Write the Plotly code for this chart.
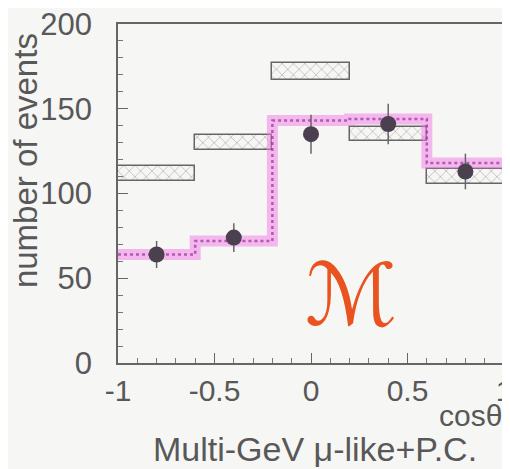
import plotly.graph_objects as go

# ---- data ----
bin_edges = [-1.0, -0.6, -0.2, 0.2, 0.6, 1.0]
bin_centers = [-0.8, -0.4, 0.0, 0.4, 0.8]
data_counts = [64, 74, 135, 141, 113]
data_errors = [8, 8.5, 11.5, 12, 10.5]
osc_pred = [64, 72, 143, 144, 118]
noosc_pred = [112, 130, 172, 135, 110]
noosc_halfband = [4.5, 4.5, 5, 4, 4.5]
x_tick_vals = [-1, -0.5, 0, 0.5, 1]
x_tick_text = ["-1", "-0.5", "0", "0.5", "1"]
y_tick_vals = [0, 50, 100, 150, 200]

TXT = "#585858"
FONT = "Liberation Sans, Arial, sans-serif"
BG = "#f6f6f4"

fig = go.Figure()

# no-oscillation prediction: hatched boxes
fig.add_trace(go.Bar(
    x=bin_centers,
    y=[2 * h for h in noosc_halfband],
    base=[v - h for v, h in zip(noosc_pred, noosc_halfband)],
    width=[bin_edges[i + 1] - bin_edges[i] for i in range(len(bin_centers))],
    marker=dict(color=BG, line=dict(color="#666666", width=1.5),
                pattern=dict(shape="x", fgcolor="#888888", size=8, solidity=0.2)),
    showlegend=False, hoverinfo="skip",
))

step_x = bin_edges
step_y = osc_pred + [osc_pred[-1]]
# oscillation prediction: thick pink band
fig.add_trace(go.Scatter(
    x=step_x, y=step_y, mode="lines", line_shape="hv",
    line=dict(color="rgba(240,120,230,0.5)", width=11),
    showlegend=False, hoverinfo="skip",
))
fig.add_trace(go.Scatter(
    x=step_x, y=step_y, mode="lines", line_shape="hv",
    line=dict(color="rgba(150,50,150,0.7)", width=2.5, dash="dot"),
    showlegend=False, hoverinfo="skip",
))

# data points
fig.add_trace(go.Scatter(
    x=bin_centers, y=data_counts, mode="markers",
    marker=dict(color="#4a4050", size=16),
    error_y=dict(type="data", array=data_errors, color="#666666", thickness=1.5, width=0),
    showlegend=False,
))

fig.update_xaxes(
    range=[-1, 1], tickvals=x_tick_vals, ticktext=x_tick_text,
    showline=True, mirror=True, linecolor="#666666", linewidth=1.5,
    ticks="inside", ticklen=10, tickcolor="#666666",
    minor=dict(dtick=0.1, ticks="inside", ticklen=5, tickcolor="#777777"),
    showgrid=False, zeroline=False,
    tickfont=dict(size=30, color=TXT, family=FONT),
    ticklabelstandoff=0, ticklabeloverflow="allow",
)
fig.update_yaxes(
    range=[0, 200], tickvals=y_tick_vals,
    showline=True, mirror=True, linecolor="#666666", linewidth=1.5,
    ticks="inside", ticklen=10, tickcolor="#666666",
    minor=dict(dtick=10, ticks="inside", ticklen=5, tickcolor="#777777"),
    showgrid=False, zeroline=False,
    tickfont=dict(size=31, color=TXT, family=FONT),
    ticklabelstandoff=18, ticklabeloverflow="allow",
)

fig.add_annotation(text="number of events", xref="paper", yref="paper",
                   x=-0.238, y=0.596, xanchor="center", yanchor="middle",
                   textangle=-90, showarrow=False,
                   font=dict(size=33, color=TXT, family=FONT))
fig.add_annotation(text="cosθ", xref="paper", yref="paper",
                   x=0.826, y=-0.156, xanchor="left", yanchor="middle", showarrow=False,
                   font=dict(size=30, color=TXT, family=FONT))
fig.add_annotation(text="Multi-GeV μ-like+P.C.", xref="paper", yref="paper",
                   x=0.51, y=-0.254, xanchor="center", yanchor="middle", showarrow=False,
                   font=dict(size=34, color=TXT, family=FONT))
fig.add_annotation(text="ℳ", xref="paper", yref="paper",
                   x=0.604, y=0.2, xanchor="center", yanchor="middle", showarrow=False,
                   font=dict(size=86, color="#e8531f", family="DejaVu Sans"))

# page body has an 8px default margin, so the figure is sized to end at the window edge
fig.update_layout(
    width=502, height=461,
    margin=dict(l=110, r=6, t=16, b=106, autoexpand=False),
    plot_bgcolor=BG, paper_bgcolor=BG,
    barmode="overlay", bargap=0,
)

fig.write_html("out.html")
